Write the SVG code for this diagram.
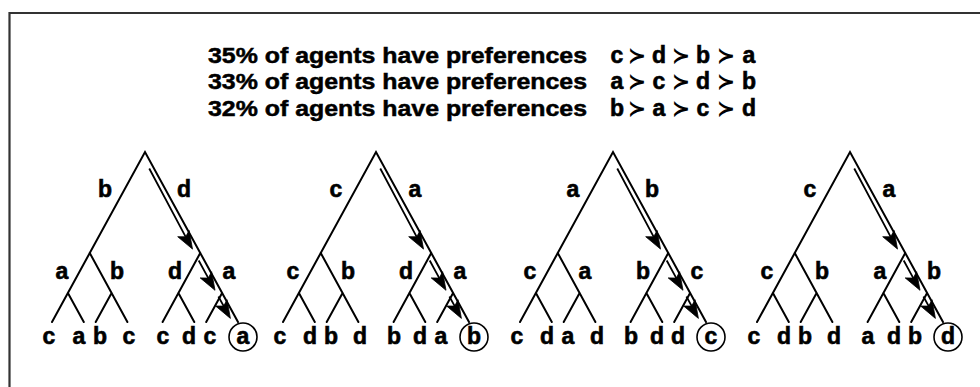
<svg xmlns="http://www.w3.org/2000/svg" width="980" height="387" viewBox="0 0 980 387" xmlns:xlink="http://www.w3.org/1999/xlink">
<style>
.t{font-family:"Liberation Sans",Arial,sans-serif;font-weight:bold;font-size:22px;fill:#000;stroke:#000;stroke-width:0.5}
.l{font-family:"Liberation Sans",Arial,sans-serif;font-weight:bold;font-size:23px;fill:#000;stroke:#000;stroke-width:0.6;text-anchor:middle}
.s{font-family:"DejaVu Sans",sans-serif;font-weight:bold;font-size:22px;fill:#000;stroke:none;text-anchor:middle}
.e{fill:none;stroke:#000;stroke-width:2;stroke-linecap:round}
.sh{fill:none;stroke:#000;stroke-width:1.8}
.ah{fill:#000;stroke:#000;stroke-width:0.8;stroke-linejoin:round}
.ring{fill:none;stroke:#000;stroke-width:1.6}
.frame{fill:none;stroke:#333;stroke-width:2.2}
</style>
<defs>
<g id="skel">
<path class="e" d="M-93,322 L0,152 L93,322 M-55.25,253 L-17.6,322 M55.25,253 L17.6,322 M-77.1,293 L-61.2,322 M-33.4,293 L-49.3,322 M33.4,293 L49.3,322 M77.1,293 L61.2,322"/>
</g>
<g id="arr">
<path class="sh" d="M4.25,168.5 L40.7,236.8 M53.7,260.5 L63.3,278.1 M73.4,296.5 L78.7,306.1"/>
<path class="ah" d="M47.5,249.1 L44.1,230.5 L40.7,236.8 L32.7,236.7 Z M70.0,290.3 L66.6,271.7 L63.3,278.1 L55.2,277.9 Z M85.4,318.4 L82.0,299.7 L78.7,306.1 L70.6,306.0 Z"/>
</g>
</defs>
<path class="frame" d="M9.5,387 L9.5,13 L980,13"/>
<g id="header">
<text class="t" x="208" y="63" textLength="379" lengthAdjust="spacingAndGlyphs">35% of agents have preferences</text>
<text class="t" x="208" y="89" textLength="379" lengthAdjust="spacingAndGlyphs">33% of agents have preferences</text>
<text class="t" x="208" y="116" textLength="379" lengthAdjust="spacingAndGlyphs">32% of agents have preferences</text>
<text class="l" y="63"><tspan x="617">c</tspan><tspan class="s" x="637" y="63">≻</tspan><tspan x="659" y="63">d</tspan><tspan class="s" x="681" y="63">≻</tspan><tspan x="703" y="63">b</tspan><tspan class="s" x="726" y="63">≻</tspan><tspan x="749" y="63">a</tspan></text>
<text class="l" y="89"><tspan x="617">a</tspan><tspan class="s" x="637" y="89">≻</tspan><tspan x="659" y="89">c</tspan><tspan class="s" x="681" y="89">≻</tspan><tspan x="703" y="89">d</tspan><tspan class="s" x="726" y="89">≻</tspan><tspan x="749" y="89">b</tspan></text>
<text class="l" y="116"><tspan x="617">b</tspan><tspan class="s" x="637" y="116">≻</tspan><tspan x="659" y="116">a</tspan><tspan class="s" x="681" y="116">≻</tspan><tspan x="703" y="116">c</tspan><tspan class="s" x="726" y="116">≻</tspan><tspan x="749" y="116">d</tspan></text>
</g>
<g id="connectors">
<use xlink:href="#skel" href="#skel" transform="translate(145,0)"/>
<use xlink:href="#arr" href="#arr" transform="translate(145,0)"/>
<use xlink:href="#skel" href="#skel" transform="translate(376,0)"/>
<use xlink:href="#arr" href="#arr" transform="translate(376,0)"/>
<use xlink:href="#skel" href="#skel" transform="translate(613,0)"/>
<use xlink:href="#arr" href="#arr" transform="translate(613,0)"/>
<use xlink:href="#skel" href="#skel" transform="translate(850,0)"/>
<use xlink:href="#arr" href="#arr" transform="translate(850,0)"/>
</g>
<g id="tree1" transform="translate(145,0)">
<text class="l" x="-40" y="197">b</text><text class="l" x="39" y="197">d</text>
<text class="l" x="-83" y="279">a</text><text class="l" x="-28" y="279">b</text><text class="l" x="30" y="279">d</text><text class="l" x="84" y="279">a</text>
<text class="l" y="344"><tspan x="-96">c</tspan><tspan x="-66">a</tspan><tspan x="-45">b</tspan><tspan x="-16">c</tspan><tspan x="18">c</tspan><tspan x="44">d</tspan><tspan x="65">c</tspan><tspan x="98">a</tspan></text>
<circle class="ring" cx="98" cy="337" r="14"/>
</g>
<g id="tree2" transform="translate(376,0)">
<text class="l" x="-40" y="197">c</text><text class="l" x="39" y="197">a</text>
<text class="l" x="-83" y="279">c</text><text class="l" x="-28" y="279">b</text><text class="l" x="30" y="279">d</text><text class="l" x="84" y="279">a</text>
<text class="l" y="344"><tspan x="-96">c</tspan><tspan x="-66">d</tspan><tspan x="-45">b</tspan><tspan x="-16">d</tspan><tspan x="18">b</tspan><tspan x="44">d</tspan><tspan x="65">a</tspan><tspan x="98">b</tspan></text>
<circle class="ring" cx="98" cy="337" r="14"/>
</g>
<g id="tree3" transform="translate(613,0)">
<text class="l" x="-40" y="197">a</text><text class="l" x="39" y="197">b</text>
<text class="l" x="-83" y="279">c</text><text class="l" x="-28" y="279">a</text><text class="l" x="30" y="279">b</text><text class="l" x="84" y="279">c</text>
<text class="l" y="344"><tspan x="-96">c</tspan><tspan x="-66">d</tspan><tspan x="-45">a</tspan><tspan x="-16">d</tspan><tspan x="18">b</tspan><tspan x="44">d</tspan><tspan x="65">d</tspan><tspan x="98">c</tspan></text>
<circle class="ring" cx="98" cy="337" r="14"/>
</g>
<g id="tree4" transform="translate(850,0)">
<text class="l" x="-40" y="197">c</text><text class="l" x="39" y="197">a</text>
<text class="l" x="-83" y="279">c</text><text class="l" x="-28" y="279">b</text><text class="l" x="30" y="279">a</text><text class="l" x="84" y="279">b</text>
<text class="l" y="344"><tspan x="-96">c</tspan><tspan x="-66">d</tspan><tspan x="-45">b</tspan><tspan x="-16">d</tspan><tspan x="18">a</tspan><tspan x="44">d</tspan><tspan x="65">b</tspan><tspan x="98">d</tspan></text>
<circle class="ring" cx="98" cy="337" r="14"/>
</g>
</svg>
